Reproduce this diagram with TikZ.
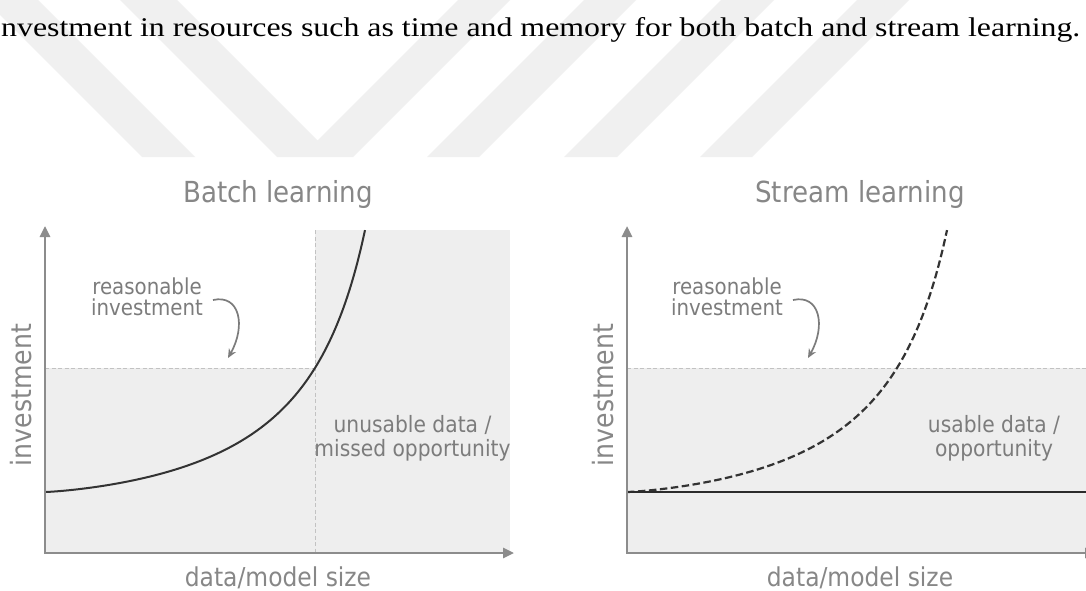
\documentclass[tikz,border=0pt]{standalone}
\usepackage{fontspec}
\usepackage{graphicx}
\setmainfont{Liberation Serif}
\newfontfamily\labelfont[FakeStretch=0.9]{DejaVu Sans}
\usetikzlibrary{arrows.meta}

\definecolor{paneFill}{HTML}{EEEEEE}
\definecolor{markGray}{HTML}{F0F0F0}
\definecolor{axisGray}{HTML}{8C8C8C}
\definecolor{textGray}{HTML}{878787}
\definecolor{noteGray}{HTML}{7C7C7C}
\definecolor{guideGray}{HTML}{C2C2C2}
\definecolor{curveDark}{HTML}{333333}

% growth of the investment with the data/model size (d = distance from the y axis)
\tikzset{
  declare function={growth(\d)=10.47*((\d)^1.3/(392.2-(\d)));},
  axispair/.style={draw=axisGray, line width=2.6pt,
    {Triangle[length=11pt,width=10pt]}-{Triangle[length=11pt,width=10pt]}},
  guide/.style={draw=guideGray, line width=0.9pt, dash pattern=on 4pt off 2.5pt},
  costcurve/.style={draw=curveDark, line width=2pt},
  streamcurve/.style={costcurve, line width=2.2pt, dash pattern=on 7.5pt off 3.5pt},
  baseline cost/.style={draw=curveDark!85!black, line width=2.6pt},
  pointer/.style={draw=noteGray, line width=1.7pt, -{Stealth[length=9pt,width=8pt]}},
  paneltitle/.style={font=\labelfont\fontsize{29}{32}\selectfont, text=textGray,
    anchor=base, inner sep=0pt},
  xlabel/.style={font=\labelfont\fontsize{26}{30}\selectfont, text=textGray,
    anchor=base, inner sep=0pt},
  ylabel/.style={font=\labelfont\fontsize{28}{30}\selectfont, text=textGray,
    anchor=base, rotate=90, inner sep=0pt},
  note/.style={text=noteGray, align=center, anchor=north, inner sep=0pt},
}

\begin{document}
\begin{tikzpicture}[x=1pt, y=-1pt]
\useasboundingbox (0,0) rectangle (1086,591);
\clip (0,0) rectangle (1086,591);
\fill[white] (0,0) rectangle (1086,591);

% faint background emblem: slanted bands and a V
\fill[markGray]
  (-15,0) -- (38,0) -- (195,157) -- (142,157) -- cycle
  (120,0) -- (177,0) -- (317.5,140.5) -- (458,0) -- (510,0) -- (353,157) -- (277,157) -- cycle
  (584,0) -- (636,0) -- (479,157) -- (427,157) -- cycle
  (721,0) -- (774,0) -- (617,157) -- (564,157) -- cycle
  (857,0) -- (909,0) -- (752,157) -- (700,157) -- cycle;

% running text line above the figure
\node[anchor=base west, inner sep=0pt] (caption) at (1,37)
  {\resizebox{1079pt}{\height}{\fontsize{27}{30}\selectfont nvestment in resources such as time and memory for both batch and stream learning.}};

% ---------------- batch learning panel ----------------
\coordinate (bO) at (45,553);
\coordinate (bTop) at (45,226);
\coordinate (bRight) at (514,553);
\coordinate (bLim) at (315,368);

\fill[paneFill] (45,368) rectangle (315,553);
\fill[paneFill] (315,230) rectangle (510,553);
\draw[guide] (bO |- bLim) -- (bLim);
\draw[guide] (315,230) -- (bLim |- bO);

\draw[costcurve] (45,492) -- plot[domain=46:365, samples=90, smooth]
  (\x, {492 - growth(\x-45)});

\draw[axispair] (bTop) -- (bO) -- (bRight);

\node[paneltitle] (btitle) at (278,202) {Batch learning};
\node[xlabel] (bx) at (278,586) {data/model size};
\node[ylabel] (by) at (31,395) {investment};

\node[note, font=\labelfont\fontsize{22}{21}\selectfont] (bnote) at (147,278)
  {reasonable\\investment};
\coordinate (bnoteStart) at (213,300);
\coordinate (bnoteEnd) at (228,358);
\draw[pointer] (bnoteStart) .. controls (240,294) and (246,326) .. (bnoteEnd);

\node[note, font=\labelfont\fontsize{22.5}{24}\selectfont] (bmiss) at (412.5,415)
  {unusable data /\\missed opportunity};

% ---------------- stream learning panel ----------------
\coordinate (sO) at (627,553);
\coordinate (sTop) at (627,226);
\coordinate (sRight) at (1096,553);

\fill[paneFill] (627,368) rectangle (1100,553);
\draw[guide] (627,368) -- (1100,368);

\draw[streamcurve] (627,492) -- plot[domain=628:947, samples=90, smooth]
  (\x, {492 - growth(\x-627)});
\draw[baseline cost] (627,492) -- (1100,492);

\draw[axispair] (sTop) -- (sO) -- (sRight);

\node[paneltitle] (stitle) at (860,202) {Stream learning};
\node[xlabel] (sx) at (860,586) {data/model size};
\node[ylabel] (sy) at (613,395) {investment};

\node[note, font=\labelfont\fontsize{22}{21}\selectfont] (snote) at (727,278)
  {reasonable\\investment};
\coordinate (snoteStart) at (793,300);
\coordinate (snoteEnd) at (808,358);
\draw[pointer] (snoteStart) .. controls (820,294) and (826,326) .. (snoteEnd);

\node[note, font=\labelfont\fontsize{22.5}{24}\selectfont] (suse) at (994,415)
  {usable data /\\opportunity};
\end{tikzpicture}
\end{document}
